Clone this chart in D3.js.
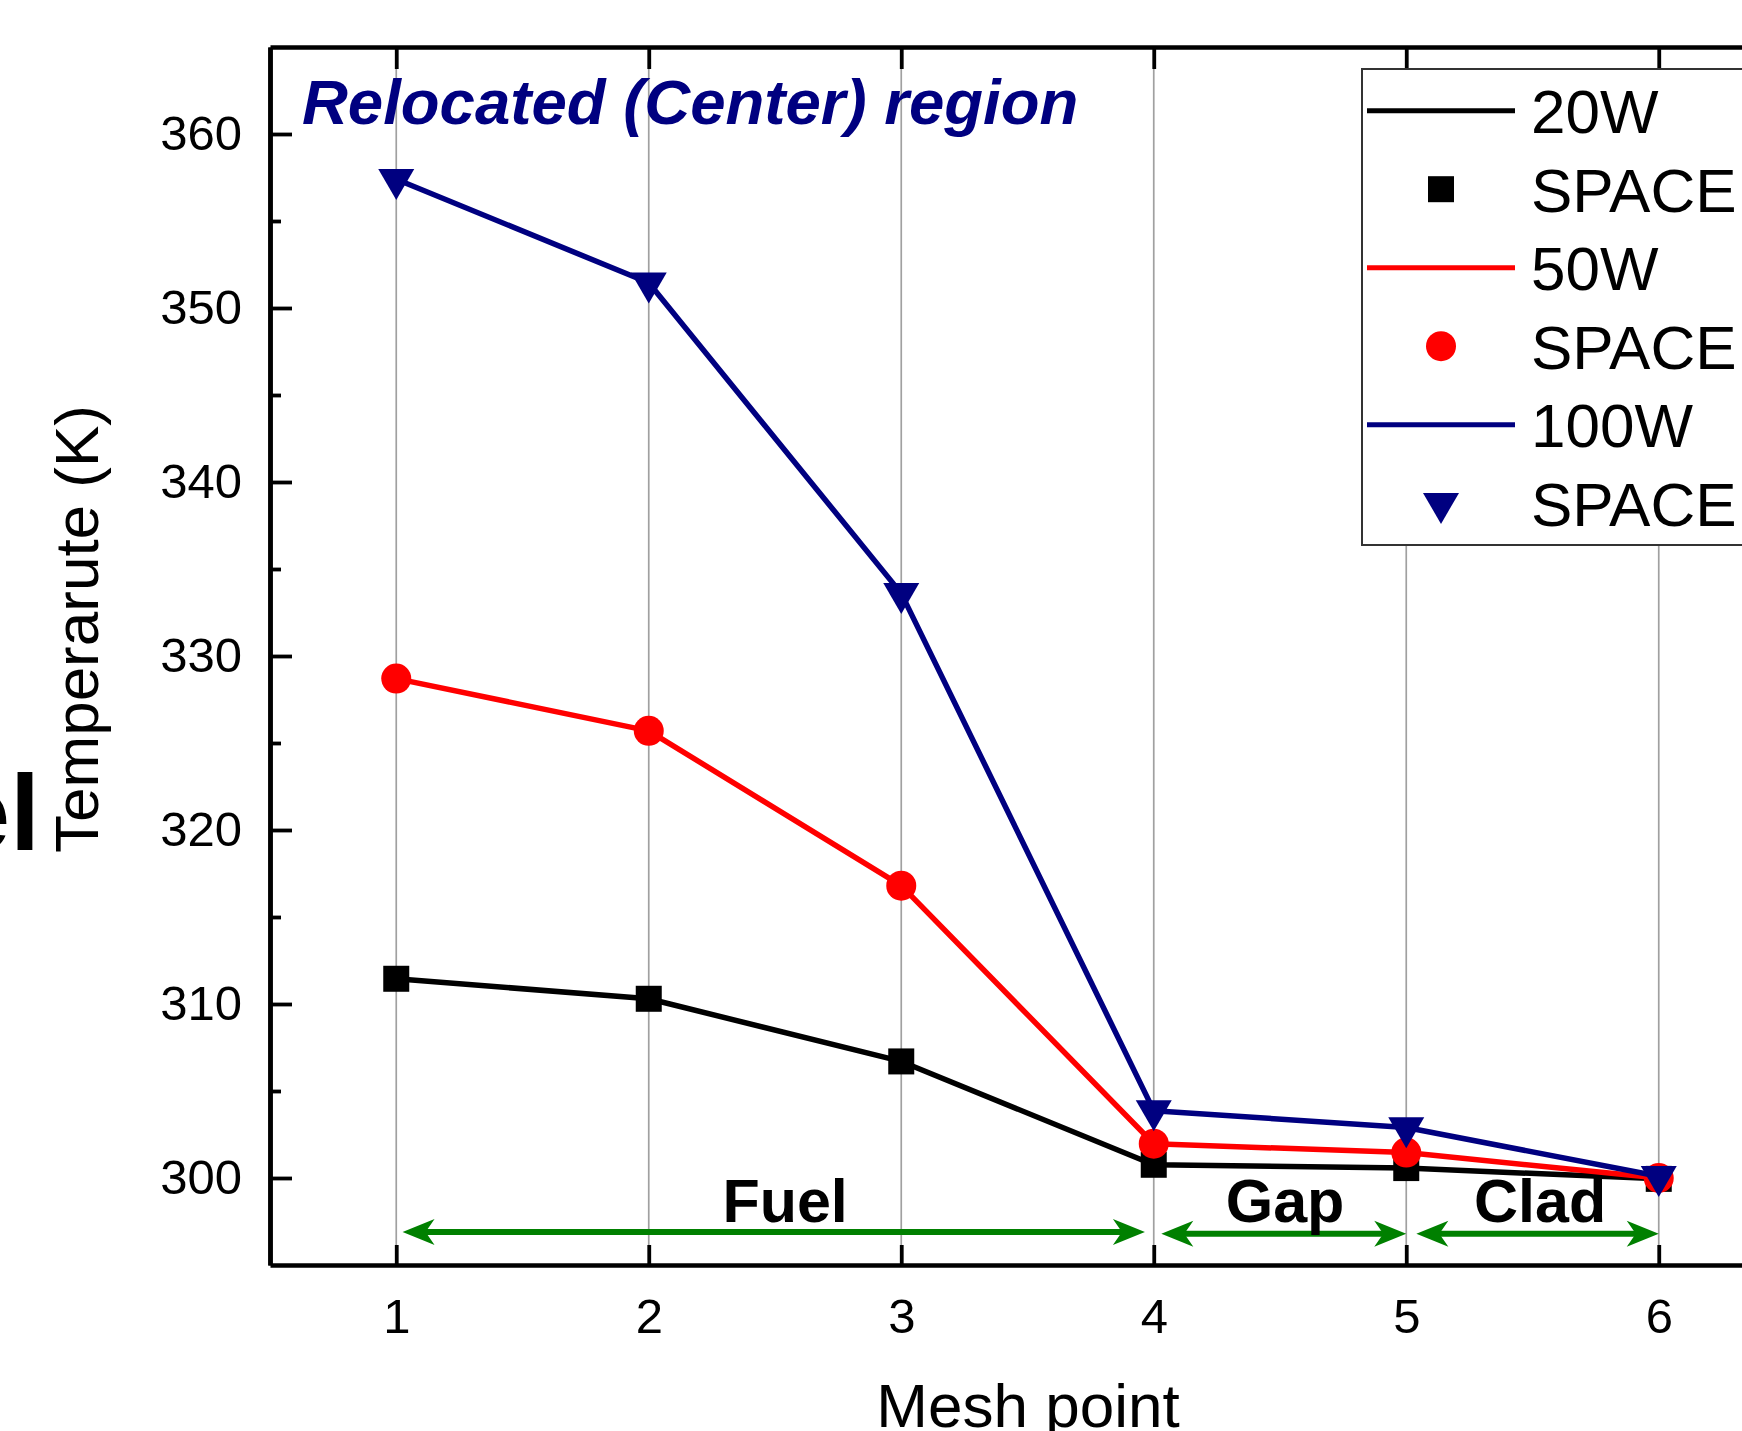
<!DOCTYPE html>
<html>
<head>
<meta charset="utf-8">
<script src="https://cdn.jsdelivr.net/npm/d3@7"></script>
<style>
  body { margin: 0; background: #fff; }
  svg { display: block; font-family: "Liberation Sans", Arial, sans-serif; }
</style>
</head>
<body>
<svg></svg>
<script>
var width = 1742;
var height = 1431;

// data
var meshPoints = [1, 2, 3, 4, 5, 6];
var temp20W = [311.45, 310.3, 306.7, 300.76, 300.57, 299.95];
var temp50W = [328.7, 325.7, 316.8, 301.97, 301.46, 300.0];
var temp100W = [357.4, 351.45, 333.6, 303.87, 302.9, 300.1];
var seriesNames = ["20W", "50W", "100W"];
var legendLabels = ["20W", "SPACE", "50W", "SPACE", "100W", "SPACE"];
var yMajorTicks = [300, 310, 320, 330, 340, 350, 360];
var yMinorTicks = [305, 315, 325, 335, 345, 355];
var regionNames = ["Fuel", "Gap", "Clad"];
var regionStart = [1.025, 4.03, 5.04];
var regionEnd = [3.965, 5.0, 6.0];
var regionArrowY = [296.9, 296.8, 296.8];
var regionLabelX = [2.54, 4.52, 5.53];

var colors = ["#000000", "#ff0000", "#000080"];
var green = "#008000";

const svg = d3.select('svg')
    .attr('width', width)
    .attr('height', height);

svg.append("rect").attr("width", width).attr("height", height).attr("fill", "#fff");

var plotLeft = 270, plotRight = 1785, plotTop = 47, plotBottom = 1265;

const x = d3.scaleLinear().domain([0.5, 6.5]).range([plotLeft, plotRight]);
const y = d3.scaleLinear().domain([295, 365]).range([plotBottom, plotTop]);

// vertical grid lines
svg.append("g").selectAll("line")
    .data(meshPoints)
    .join("line")
    .attr("x1", d => x(d)).attr("x2", d => x(d))
    .attr("y1", plotTop).attr("y2", plotBottom)
    .attr("stroke", "#a0a0a0")
    .attr("stroke-width", 1.7);

function styleAxis(g) {
    g.selectAll(".domain").attr("stroke", "#000").attr("stroke-width", 4.5);
    g.selectAll(".tick line").attr("stroke", "#000").attr("stroke-width", 3.8);
    g.selectAll("text").attr("font-size", 49).attr("fill", "#000")
        .attr("font-family", "'Liberation Sans', Arial, sans-serif");
}

// y axis
svg.append("g")
    .attr("transform", `translate(${plotLeft},0)`)
    .call(d3.axisLeft(y).tickValues(yMinorTicks).tickSize(-11).tickSizeOuter(0).tickFormat(""))
    .call(styleAxis);
svg.append("g")
    .attr("transform", `translate(${plotLeft},0)`)
    .call(d3.axisLeft(y).tickValues(yMajorTicks).tickSize(-22).tickSizeOuter(0).tickPadding(28).tickFormat(d3.format("d")))
    .call(styleAxis);

// x axis bottom and top
svg.append("g")
    .attr("transform", `translate(0,${plotBottom})`)
    .call(d3.axisBottom(x).tickValues(meshPoints).tickSize(-20).tickSizeOuter(0).tickPadding(33).tickFormat(d3.format("d")))
    .call(styleAxis);
svg.append("g")
    .attr("transform", `translate(0,${plotTop})`)
    .call(d3.axisTop(x).tickValues(meshPoints).tickSize(-22).tickSizeOuter(0).tickFormat(""))
    .call(styleAxis);

// axis titles
svg.append("text")
    .attr("x", 1028).attr("y", 1427)
    .attr("text-anchor", "middle")
    .attr("font-size", 62)
    .text("Mesh point");

// stray bold text from the neighbouring figure
svg.append("text")
    .attr("x", 40).attr("y", 850)
    .attr("text-anchor", "end")
    .attr("font-size", 108)
    .attr("font-weight", "bold")
    .text("el");

svg.append("text")
    .attr("transform", "translate(98,629) rotate(-90)")
    .attr("text-anchor", "middle")
    .attr("font-size", 62)
    .text("Temperarute (K)");

// region arrows
function arrowHead(px, py, dir) {
    var L = 32, W = 13, n = 9;
    return `M${px},${py} L${px - dir * L},${py - W} L${px - dir * (L - n)},${py} L${px - dir * L},${py + W} Z`;
}
var arrows = svg.append("g");
regionNames.forEach(function(name, i) {
    var x0 = x(regionStart[i]), x1 = x(regionEnd[i]), yy = y(regionArrowY[i]);
    arrows.append("line")
        .attr("x1", x0 + 12).attr("x2", x1 - 12)
        .attr("y1", yy).attr("y2", yy)
        .attr("stroke", green).attr("stroke-width", 6);
    arrows.append("path").attr("d", arrowHead(x0, yy, -1)).attr("fill", green);
    arrows.append("path").attr("d", arrowHead(x1, yy, 1)).attr("fill", green);
    arrows.append("text")
        .attr("x", x(regionLabelX[i])).attr("y", y(297.47))
        .attr("text-anchor", "middle")
        .attr("font-size", 61)
        .attr("font-weight", "bold")
        .text(name);
});

// markers
var triPath = "M-18,-10.3 L18,-10.3 L0,20.7 Z";
function drawMarker(g, kind, color) {
    if (kind === 0) {
        g.append("rect").attr("x", -13).attr("y", -13).attr("width", 26).attr("height", 26).attr("fill", color);
    } else if (kind === 1) {
        g.append("circle").attr("r", 15).attr("fill", color);
    } else {
        g.append("path").attr("d", triPath).attr("fill", color);
    }
}

var allSeries = [temp20W, temp50W, temp100W];
const line = d3.line()
    .x((d, i) => x(meshPoints[i]))
    .y(d => y(d));

allSeries.forEach(function(values, s) {
    svg.append("path")
        .datum(values)
        .attr("d", line)
        .attr("fill", "none")
        .attr("stroke", colors[s])
        .attr("stroke-width", 5.5)
        .attr("stroke-linejoin", "round");
    svg.append("g").selectAll("g")
        .data(values)
        .join("g")
        .attr("transform", (d, i) => `translate(${x(meshPoints[i])},${y(d)})`)
        .each(function() { drawMarker(d3.select(this), s, colors[s]); });
});

// inline title
svg.append("text")
    .attr("x", 302).attr("y", 124)
    .attr("font-size", 63.5)
    .attr("font-weight", "bold")
    .attr("font-style", "italic")
    .attr("fill", "#000080")
    .text("Relocated (Center) region");

// legend
var legend = svg.append("g");
legend.append("rect")
    .attr("x", 1362).attr("y", 69)
    .attr("width", 500).attr("height", 476)
    .attr("fill", "#fff")
    .attr("stroke", "#333")
    .attr("stroke-width", 2);
legendLabels.forEach(function(label, i) {
    var ry = 110.7 + i * 78.5;
    var s = Math.floor(i / 2);
    if (i % 2 === 0) {
        legend.append("line")
            .attr("x1", 1367).attr("x2", 1515)
            .attr("y1", ry).attr("y2", ry)
            .attr("stroke", colors[s]).attr("stroke-width", 5);
    } else {
        var g = legend.append("g").attr("transform", `translate(1441,${ry})`);
        drawMarker(g, s, colors[s]);
    }
    legend.append("text")
        .attr("x", 1531).attr("y", ry)
        .attr("dy", "0.36em")
        .attr("font-size", 62)
        .text(label);
});
</script>
</body>
</html>
